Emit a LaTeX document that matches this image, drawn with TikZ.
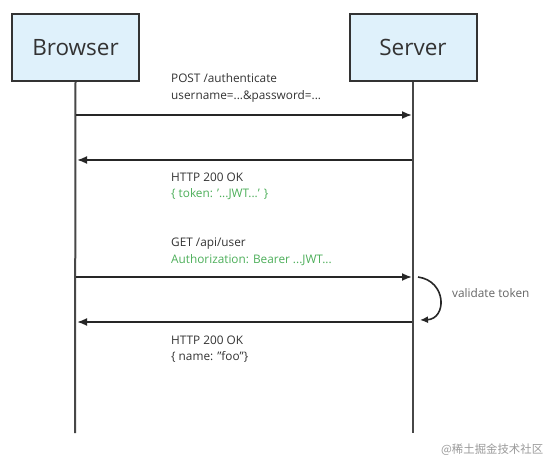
\documentclass[tikz,border=0pt]{standalone}
\usepackage{fontspec}
\setmainfont{Open Sans}
\newfontfamily\cjk{Noto Sans CJK SC}
\usetikzlibrary{arrows.meta}
\definecolor{boxfill}{HTML}{DFF1FB}
\definecolor{boxline}{HTML}{333333}
\definecolor{txt}{HTML}{333333}
\definecolor{grn}{HTML}{4DAF5A}
\definecolor{wm}{HTML}{9A9A9A}
\tikzset{
  actor/.style={draw=boxline, line width=2pt, fill=boxfill, minimum width=127pt, minimum height=67pt, inner sep=0pt, font=\fontsize{22.5}{26}\selectfont, text=txt},
  life/.style={draw=boxline!90, line width=2pt},
  msg/.style={draw=black!85, line width=1.8pt, -{Latex[length=10pt,width=8pt]}},
  lbl/.style={anchor=west, inner sep=0pt, font=\fontsize{11.8}{13}\selectfont, text=txt},
  glbl/.style={lbl, text=grn},
}
\begin{document}
\begin{tikzpicture}[x=1pt,y=1pt]
\useasboundingbox (0,0) rectangle (559,469);
\fill[white] (0,0) rectangle (559,469);
% actors
\node[actor] (browser) at (75.5,421.5) {Browser};
\node[actor] (server) at (413,421.5) {Server};
% lifeline ends
\coordinate (bend) at (75,36);
\coordinate (send) at (413,36);
\draw[life] (browser.south) -- (bend);
\draw[life] (server.south) -- (send);
% message points
\coordinate (b1) at (76,354);
\coordinate (s1) at (412,354);
\coordinate (s2) at (412,309);
\coordinate (b2) at (77,309);
\coordinate (b3) at (76,192);
\coordinate (s3) at (412,192);
\coordinate (s4) at (412,147);
\coordinate (b4) at (77,147);
\coordinate (v1) at (418,192);
\coordinate (v2) at (420,149);
% messages
\draw[msg] (b1) -- (s1);
\draw[msg] (s2) -- (b2);
\draw[msg] (b3) -- (s3);
\draw[msg] (s4) -- (b4);
\draw[msg, line width=1.6pt, -{Latex[length=8pt,width=7pt]}] (v1) .. controls (447,188) and (447,150) .. (v2);
% labels
\node[lbl] (l1a) at (171,391) {POST /authenticate};
\node[lbl] (l1b) at (171,373) {username=...\&password=...};
\node[lbl] (l2a) at (171,292) {HTTP 200 OK};
\node[glbl] (l2b) at (171,275) {\{ token: '...JWT...' \}};
\node[lbl] (l3a) at (171,225) {GET /api/user};
\node[glbl] (l3b) at (171,209) {Authorization: Bearer ...JWT...};
\node[lbl] (l4a) at (171,129) {HTTP 200 OK};
\node[lbl] (l4b) at (171,112) {\{ name: "foo"\}};
\node[lbl, text=black!60] (vt) at (452,176) {validate token};
\node[anchor=west, inner sep=0pt, font=\cjk\fontsize{11.4}{13}\selectfont, text=wm] (wmk) at (441,19) {@稀土掘金技术社区};
\end{tikzpicture}
\end{document}
